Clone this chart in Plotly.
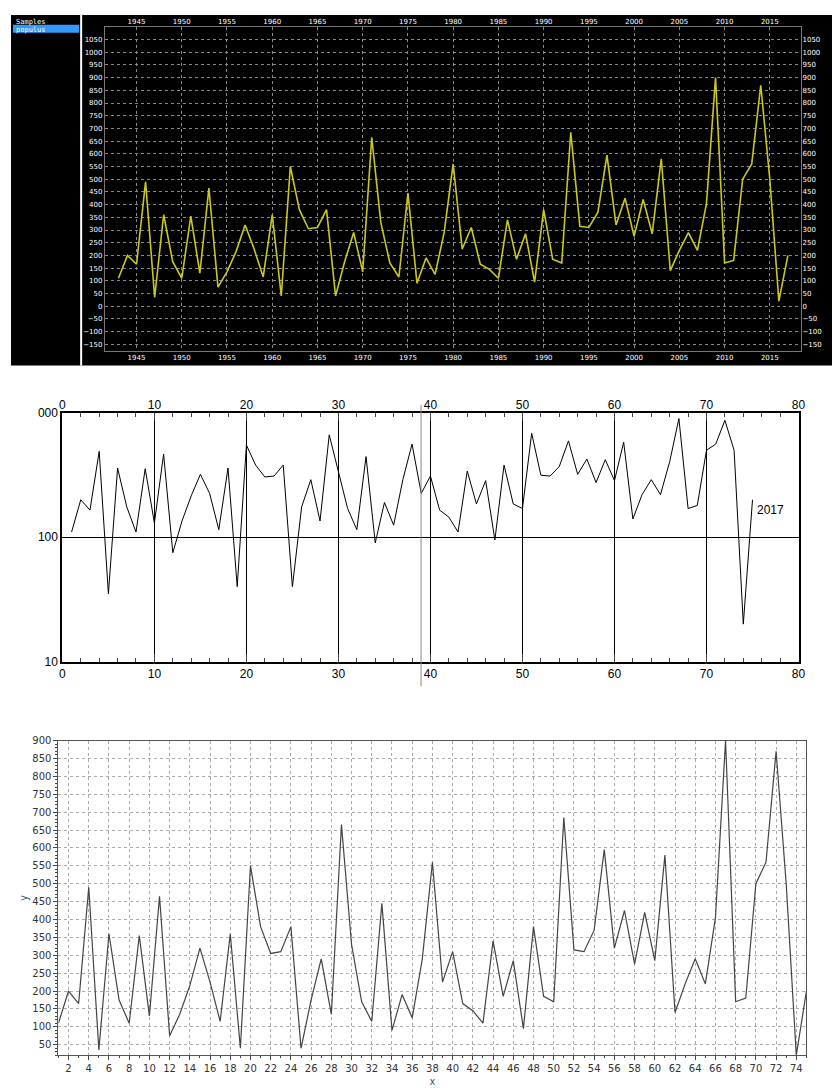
import plotly.graph_objects as go

years = list(range(1943, 2018))
idx = list(range(1, 76))
values = [110, 200, 165, 490, 35, 360, 175, 110, 355, 130,
          465, 75, 135, 215, 320, 225, 115, 360, 40, 550,
          380, 305, 310, 380, 40, 175, 290, 135, 665, 330,
          170, 115, 445, 90, 190, 125, 290, 560, 225, 310,
          165, 145, 110, 340, 185, 285, 95, 380, 185, 170,
          685, 315, 310, 370, 595, 320, 425, 275, 420, 285,
          580, 140, 220, 290, 220, 405, 900, 170, 180, 500,
          560, 870, 500, 20, 200]

H = 1088.0
def dom(top, bot):
    return [1 - bot / H, 1 - top / H]

fig = go.Figure()
fig.add_trace(go.Scatter(x=years, y=values, mode="lines", line=dict(color="#c8c820", width=1.6),
                         xaxis="x", yaxis="y", showlegend=False))
# invisible copies so the mirrored label axes get drawn
fig.add_trace(go.Scatter(x=years, y=values, mode="lines", line=dict(width=0), opacity=0,
                         xaxis="x4", yaxis="y4", showlegend=False, hoverinfo="skip"))
fig.add_trace(go.Scatter(x=idx, y=values, mode="lines", line=dict(color="black", width=1),
                         xaxis="x2", yaxis="y2", showlegend=False))
fig.add_trace(go.Scatter(x=idx, y=values, mode="lines", line=dict(width=0), opacity=0,
                         xaxis="x5", yaxis="y2", showlegend=False, hoverinfo="skip"))
fig.add_trace(go.Scatter(x=idx, y=values, mode="lines", line=dict(color="#444", width=1.2),
                         xaxis="x3", yaxis="y3", showlegend=False))

small = dict(size=7, color="white", family="DejaVu Sans")
mid = dict(size=12, color="black", family="Liberation Sans")
top_x = dict(domain=[95 / 840, 800 / 840], range=[1941.5, 2018.5],
             tickvals=list(range(1945, 2016, 5)), ticks="", tickfont=small,
             zeroline=False)
top_y = dict(domain=dom(12, 340), range=[-175, 1100],
             tickvals=list(range(-150, 1051, 50)), tickfont=small, zeroline=False)
mid_x = dict(domain=[52 / 840, 797 / 840], range=[0, 80],
             tickvals=list(range(0, 81, 10)), ticks="inside", ticklen=8,
             minor=dict(dtick=2, ticks="inside", ticklen=4, showgrid=False),
             zeroline=False, tickfont=mid)

fig.update_layout(
    width=840, height=1088, margin=dict(l=0, r=0, t=0, b=0),
    paper_bgcolor="white", plot_bgcolor="white",
    xaxis=dict(**top_x, anchor="y", showgrid=True, gridcolor="#888", griddash="dot",
               showline=True, linecolor="#777", mirror=True),
    yaxis=dict(**top_y, anchor="x", showgrid=True, gridcolor="#888", griddash="dot",
               showline=True, linecolor="#777", mirror=True),
    xaxis4=dict(**top_x, anchor="y", overlaying="x", side="top", showgrid=False),
    yaxis4=dict(**top_y, anchor="x", overlaying="y", side="right", showgrid=False),
    xaxis2=dict(**mid_x, anchor="y2", mirror="allticks", showline=True, linecolor="black",
                linewidth=2, showgrid=True, gridcolor="black", gridwidth=1),
    xaxis5=dict(**mid_x, anchor="y2", overlaying="x2", side="top", showgrid=False),
    yaxis2=dict(domain=dom(403, 655), type="log", range=[1, 3], anchor="x2",
                tickvals=[10, 100, 1000], ticktext=["10", "100", "000"], ticks="",
                mirror=True, showline=True, linecolor="black", linewidth=2,
                showgrid=True, gridcolor="black", gridwidth=1, zeroline=False,
                tickfont=mid),
    xaxis3=dict(domain=[48 / 840, 805 / 840], range=[1, 75], anchor="y3",
                tickvals=list(range(2, 75, 2)), ticks="outside", ticklen=4,
                minor=dict(dtick=1, ticks="outside", ticklen=2),
                mirror=True, showline=True, linecolor="#555",
                showgrid=True, gridcolor="#aaa", griddash="dot", zeroline=False,
                title=dict(text="x", font=dict(size=10), standoff=0),
                tickfont=dict(size=10, color="#333", family="DejaVu Sans")),
    yaxis3=dict(domain=dom(735, 1054), range=[20, 900], anchor="x3",
                tickvals=list(range(50, 901, 50)), ticks="outside", ticklen=4,
                minor=dict(dtick=10, ticks="outside", ticklen=2),
                mirror=True, showline=True, linecolor="#555",
                showgrid=True, gridcolor="#aaa", griddash="dot", zeroline=False,
                title=dict(text="y", font=dict(size=10), standoff=2),
                tickfont=dict(size=10, color="#333", family="DejaVu Sans")),
    shapes=[
        dict(type="rect", xref="paper", yref="paper", x0=0, x1=1, y0=1 - 355 / H, y1=1,
             fillcolor="black", line=dict(width=0), layer="below"),
        dict(type="line", xref="paper", yref="paper", x0=71 / 840, x1=71 / 840,
             y0=1 - 355 / H, y1=1, line=dict(color="white", width=2)),
        dict(type="rect", xref="paper", yref="paper", x0=2 / 840, x1=69 / 840,
             y0=1 - 18 / H, y1=1 - 10 / H, fillcolor="#3399ff", line=dict(width=0)),
        dict(type="line", xref="paper", yref="paper", x0=415 / 840, x1=415 / 840,
             y0=1 - 680 / H, y1=1 - 395 / H, line=dict(color="#888", width=1)),
    ],
    annotations=[
        dict(text="Samples", xref="paper", yref="paper", x=3 / 840, y=1 - 1 / H,
             xanchor="left", yanchor="top", showarrow=False,
             font=dict(size=7, color="white", family="DejaVu Sans Mono")),
        dict(text="populus", xref="paper", yref="paper", x=3 / 840, y=1 - 9 / H,
             xanchor="left", yanchor="top", showarrow=False,
             font=dict(size=7, color="white", family="DejaVu Sans Mono")),
        dict(text="2017", x=75.3, y=2.22, xref="x2", yref="y2", xanchor="left",
             showarrow=False, font=mid),
    ],
)

fig.write_html("out.html")
